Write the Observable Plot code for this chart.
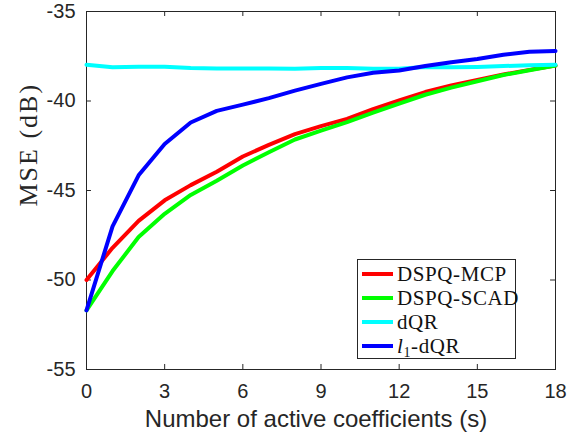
<!DOCTYPE html>
<html>
<head>
<meta charset="utf-8">
<script src="https://cdn.jsdelivr.net/npm/d3@7"></script>
<script src="https://cdn.jsdelivr.net/npm/@observablehq/plot@0.6"></script>
<style>
  body { margin: 0; background: #fff; }
  #wrap { position: relative; width: 578px; height: 433px; }
  #legend {
    position: absolute; left: 357px; top: 259px; width: 157px; height: 96px;
    border: 1px solid #262626; background: #fff; padding-top: 2px;
    font-family: "Liberation Serif", "DejaVu Serif", serif; font-size: 21px; letter-spacing: 0.6px; color: #111;
  }
  .row { height: 24px; display: flex; align-items: center; white-space: nowrap; }
  .sw { width: 31px; height: 4px; margin-left: 4px; margin-right: 4px; flex: none; }
  sub { font-size: 14px; vertical-align: -4px; line-height: 0; }
</style>
</head>
<body>
<div id="wrap"></div>
<script>
const s = [0,1,2,3,4,5,6,7,8,9,10,11,12,13,14,15,16,17,18];
const mcp  = [-50.0,-48.2,-46.7,-45.55,-44.7,-43.95,-43.1,-42.45,-41.85,-41.4,-41.0,-40.45,-39.97,-39.5,-39.13,-38.82,-38.52,-38.26,-38.02];
const scad = [-51.7,-49.5,-47.6,-46.3,-45.25,-44.45,-43.6,-42.86,-42.15,-41.65,-41.18,-40.65,-40.15,-39.65,-39.25,-38.9,-38.55,-38.28,-38.02];
const dqr  = [-37.98,-38.12,-38.08,-38.08,-38.15,-38.18,-38.18,-38.18,-38.2,-38.15,-38.15,-38.2,-38.2,-38.1,-38.12,-38.1,-38.05,-38.0,-37.98];
const l1dqr = [-51.7,-47.0,-44.15,-42.4,-41.2,-40.55,-40.2,-39.84,-39.42,-39.04,-38.68,-38.42,-38.3,-38.05,-37.83,-37.65,-37.42,-37.25,-37.2];
const seriesNames = ["DSPQ-MCP","DSPQ-SCAD","dQR","l1-dQR"];
const seriesColors = ["#ff0000","#00ff00","#00ffff","#0000ff"];
const xTicks = [0,3,6,9,12,15,18];
const yTicks = [-55,-50,-45,-40,-35];
const xLabel = "Number of active coefficients (s)";
const yLabel = "MSE (dB)";

const allSeries = [mcp, scad, dqr, l1dqr];
const data = allSeries.flatMap((vals, i) => vals.map((v, j) => ({s: s[j], mse: v, series: seriesNames[i]})));

const axisColor = "#262626";
const tickLenY = 0.28;  // in dB units (~5px)
const tickLenX = 0.19;  // in s units (~5px)
const fmt = d => String(d);

const chart = Plot.plot({
  width: 578, height: 433,
  marginLeft: 86, marginRight: 23, marginTop: 11, marginBottom: 64,
  x: {domain: [0, 18]},
  y: {domain: [-55, -35]},
  style: {background: "#fff"},
  marks: [
    Plot.frame({stroke: axisColor, strokeWidth: 1}),
    Plot.ruleX(xTicks, {x: d => d, y1: -55, y2: -55 + tickLenY, stroke: axisColor}),
    Plot.ruleX(xTicks, {x: d => d, y1: -35, y2: -35 - tickLenY, stroke: axisColor}),
    Plot.ruleY(yTicks, {y: d => d, x1: 0, x2: tickLenX, stroke: axisColor}),
    Plot.ruleY(yTicks, {y: d => d, x1: 18, x2: 18 - tickLenX, stroke: axisColor}),
    Plot.axisX({ticks: xTicks, tickFormat: fmt, tickSize: 0, tickPadding: 14, fontSize: 20, fontFamily: "Liberation Sans, Arial, sans-serif", color: axisColor, label: null}),
    Plot.axisY({ticks: yTicks, tickFormat: fmt, tickSize: 0, tickPadding: 11, fontSize: 20, fontFamily: "Liberation Sans, Arial, sans-serif", color: axisColor, label: null}),
    ...seriesNames.map((name, i) =>
      Plot.line(data.filter(d => d.series === name), {x: "s", y: "mse", stroke: seriesColors[i], strokeWidth: 4, strokeLinejoin: "round"})
    ),
    Plot.text([xLabel], {frameAnchor: "bottom", dy: 57, dx: -5, fontSize: 24, fontFamily: "Liberation Sans, Arial, sans-serif", fill: axisColor}),
    Plot.text([yLabel], {frameAnchor: "left", dx: -58, dy: 16, rotate: -90, fontSize: 26, fontFamily: "Liberation Serif, Times New Roman, serif", fill: axisColor})
  ]
});
d3.select(chart).selectAll("text").filter(function() { return this.textContent === yLabel; })
  .attr("letter-spacing", "2px");
document.getElementById("wrap").appendChild(chart);

const legend = document.createElement("div");
legend.id = "legend";
seriesNames.forEach((name, i) => {
  const row = document.createElement("div");
  row.className = "row";
  const sw = document.createElement("span");
  sw.className = "sw";
  sw.style.background = seriesColors[i];
  row.appendChild(sw);
  const label = document.createElement("span");
  if (name === "l1-dQR") {
    label.innerHTML = "<i>l</i><sub>1</sub>-dQR";
  } else {
    label.textContent = name;
  }
  row.appendChild(label);
  legend.appendChild(row);
});
document.getElementById("wrap").appendChild(legend);
</script>
</body>
</html>
